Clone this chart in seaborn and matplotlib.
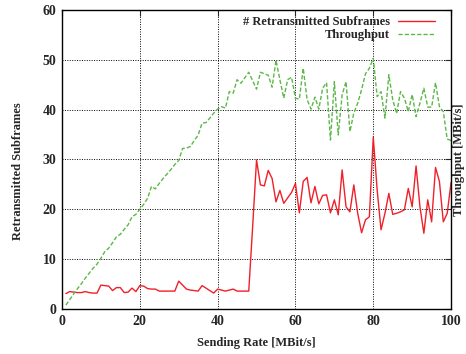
import numpy as np
import pandas as pd
import seaborn as sns
import matplotlib.pyplot as plt

# Sending rate (MBit/s)
rate = list(range(1, 101))

# Retransmitted subframes per sending rate
retrans = [
    3.1, 3.5, 3.4, 3.3, 3.3, 3.5, 3.3, 3.2, 3.2, 4.8,
    4.7, 4.6, 3.7, 4.3, 4.3, 3.3, 3.4, 4.2, 3.5, 4.7,
    4.6, 4.1, 4.0, 4.0, 3.6, 3.6, 3.6, 3.6, 3.6, 5.6,
    4.8, 4.0, 3.8, 3.7, 3.6, 4.7, 4.2, 3.7, 3.2, 4.0,
    3.8, 3.6, 3.8, 4.0, 3.6, 3.6, 3.6, 3.6, 16.5, 29.9,
    24.9, 24.7, 27.8, 26.2, 21.5, 23.8, 21.2, 22.3, 23.4, 25.2,
    19.3, 25.6, 26.4, 21.3, 24.6, 21.1, 22.8, 22.9, 19.3, 21.9,
    18.9, 27.9, 20.5, 19.5, 24.9, 19.2, 15.3, 17.9, 18.5, 34.5,
    23.9, 15.9, 19.2, 23.2, 19.0, 19.2, 19.5, 19.9, 24.2, 20.5,
    28.7, 20.5, 15.2, 21.9, 17.5, 28.4, 25.6, 17.5, 19.2, 25.4,
]

# Throughput (MBit/s)
throughput = [
    0.8, 1.9, 3.0, 4.1, 5.1, 6.2, 7.2, 8.2, 9.0, 10.2,
    11.5, 12.2, 13.3, 14.5, 15.0, 16.0, 16.9, 18.5, 19.0, 20.0,
    21.0, 22.2, 24.6, 24.1, 25.2, 26.2, 27.1, 28.0, 29.0, 29.8,
    32.2, 32.3, 32.6, 33.8, 34.9, 37.3, 37.4, 38.3, 39.3, 40.1,
    40.6, 40.3, 43.6, 43.3, 46.0, 45.3, 46.4, 47.5, 45.8, 44.1,
    47.5, 47.2, 46.9, 44.5, 49.9, 46.0, 42.3, 46.0, 46.5, 42.3,
    42.1, 48.3, 42.0, 40.1, 42.5, 40.1, 44.3, 45.4, 33.9, 45.6,
    34.9, 43.0, 45.6, 35.6, 39.3, 41.3, 44.0, 47.2, 48.3, 50.3,
    42.6, 43.6, 38.3, 47.0, 42.0, 39.2, 43.6, 42.3, 39.6, 43.0,
    38.6, 41.3, 44.3, 40.5, 40.5, 45.4, 40.6, 39.6, 34.1, 33.8,
]

df = pd.DataFrame({'rate': rate, 'retrans': retrans, 'throughput': throughput})

sns.set_style('white')
plt.rcParams['font.family'] = ['Liberation Serif', 'DejaVu Serif']
plt.rcParams['font.weight'] = 'bold'
plt.rcParams['font.size'] = 9

fig = plt.figure(figsize=(4.66, 3.54), dpi=100)
ax = fig.add_axes([0.133, 0.127, 0.835, 0.845])

sns.lineplot(data=df, x='rate', y='retrans', ax=ax, color='#f0202a', lw=1.0,
             label='# Retransmitted Subframes')
sns.lineplot(data=df, x='rate', y='throughput', ax=ax, color='#5cb848', lw=1.0,
             linestyle=(0, (3, 1.5)), label='Throughput')

ax.set_xlim(0, 100)
ax.set_ylim(0, 60)
ax.set_xticks([0, 20, 40, 60, 80, 100])
ax.set_yticks([0, 10, 20, 30, 40, 50, 60])
ax.grid(True, color='black', linestyle=(0, (1, 1.5)), linewidth=0.7)
ax.tick_params(direction='in', top=True, right=True, length=4, width=0.8,
               labelsize=10, pad=4)
for s in ax.spines.values():
    s.set_color('black')
    s.set_linewidth(1.0)

ax.set_xlabel('Sending Rate [MBit/s]', fontsize=9, fontweight='bold', labelpad=7)
ax.set_ylabel('Retransmitted Subframes', fontsize=9, fontweight='bold')
ax.yaxis.set_label_coords(-0.098, 0.46)
fig.text(0.986, 0.548, 'Throughput [MBit/s]', rotation=90, ha='center', va='center',
         fontsize=9, fontweight='bold')

ax.legend(loc='upper right', bbox_to_anchor=(0.975, 1.0), frameon=False,
          markerfirst=False, fontsize=9, handlelength=3.0, borderaxespad=0.1,
          labelspacing=0.1, handletextpad=0.6)

fig.savefig('out.png', dpi=100)
